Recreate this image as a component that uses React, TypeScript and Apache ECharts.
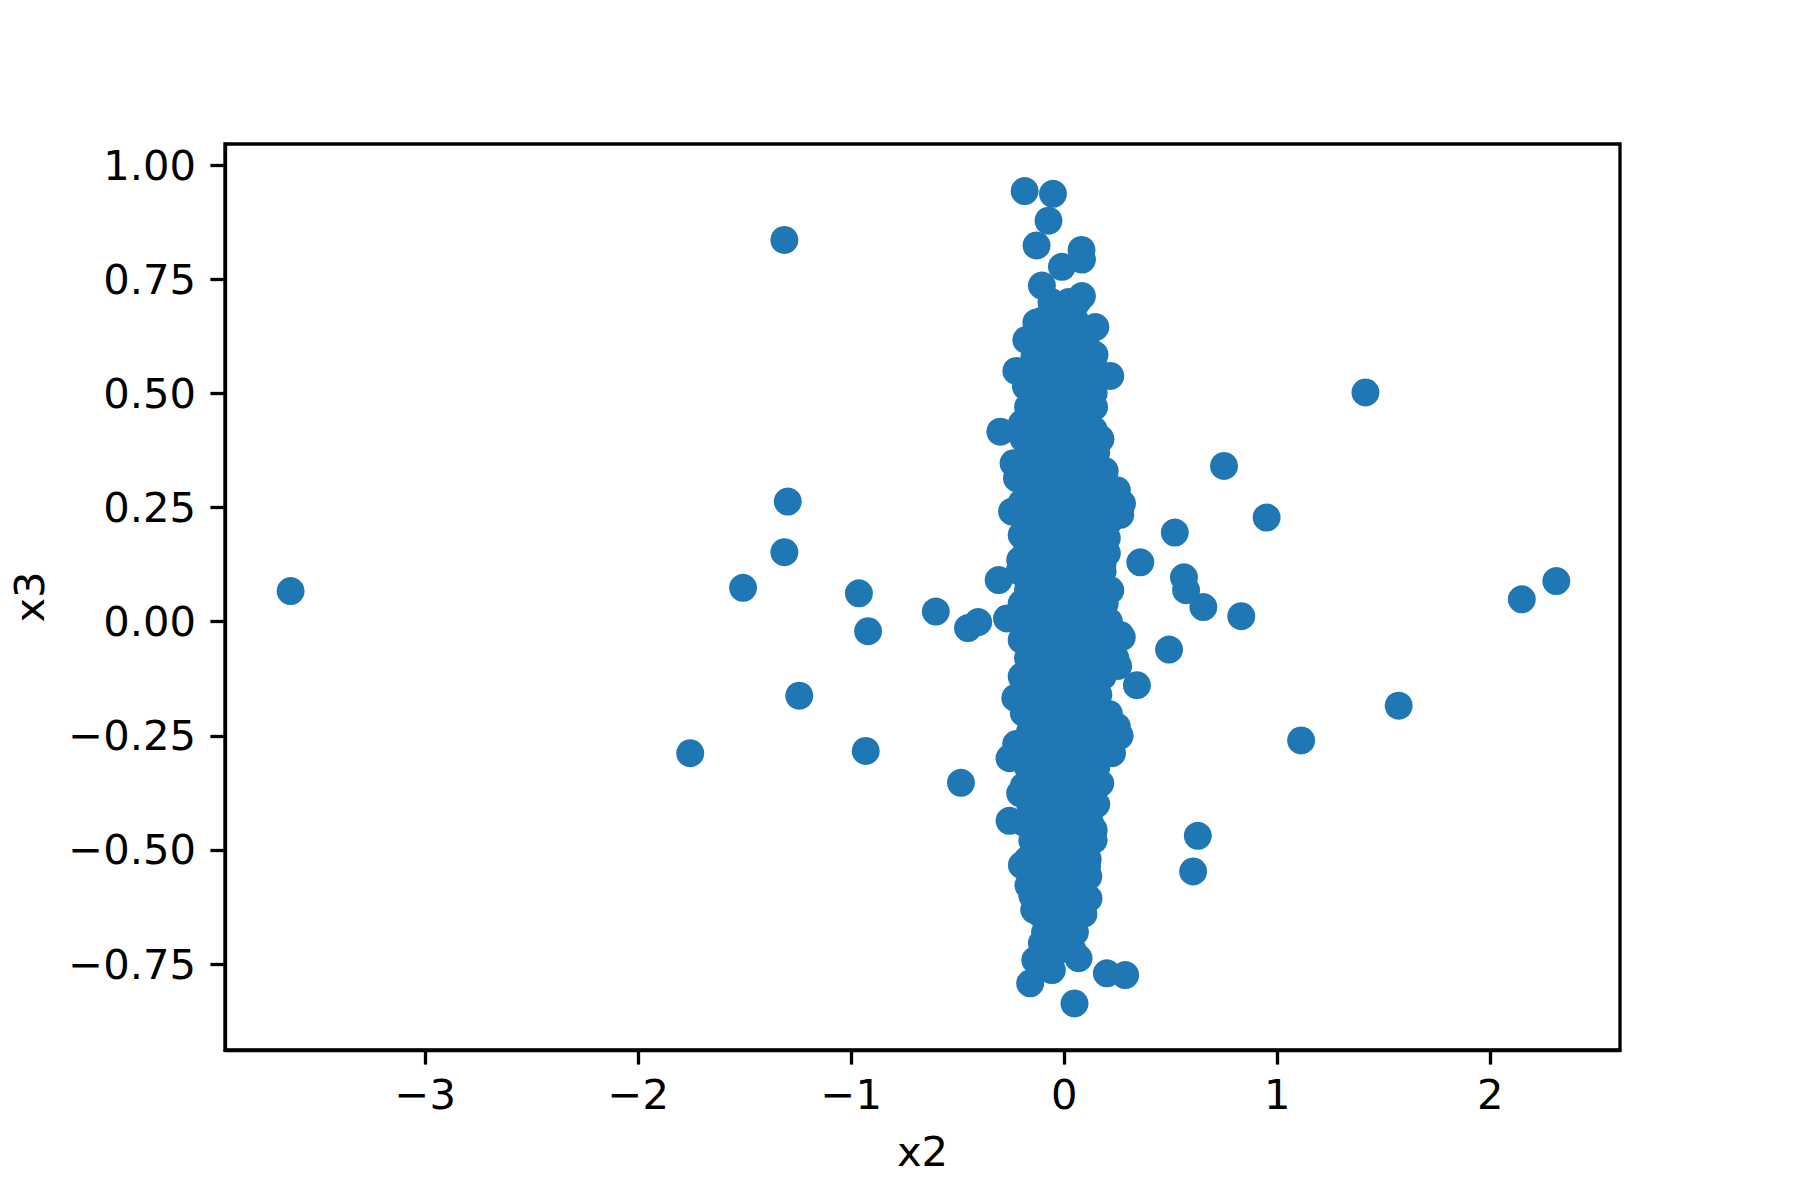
import React, { useEffect, useRef } from "react";
import * as echarts from "echarts";

const X_TICKS = [-3, -2, -1, 0, 1, 2];
const Y_TICKS = [-0.75, -0.5, -0.25, 0, 0.25, 0.5, 0.75, 1.0];
const X_LABEL = "x2";
const Y_LABEL = "x3";

// isolated points away from the main cluster
const OUTLIERS: [number, number][] = [
  [-3.632, 0.067], [-1.314, 0.836], [-1.298, 0.263], [-1.314, 0.152], [-1.508, 0.074],
  [-0.964, 0.062], [-0.921, -0.021], [-1.244, -0.162], [-1.756, -0.288], [-0.932, -0.283],
  [-0.603, 0.022], [-0.452, -0.014], [-0.404, -0.001], [-0.485, -0.353],
  [1.414, 0.502], [0.75, 0.341], [0.95, 0.228], [0.519, 0.195], [0.357, 0.13],
  [0.562, 0.097], [0.572, 0.069], [0.653, 0.032], [0.831, 0.012], [0.492, -0.061],
  [0.341, -0.139], [1.112, -0.26], [1.57, -0.184], [2.148, 0.049], [2.31, 0.089],
  [0.627, -0.469], [0.605, -0.547], [0.2, -0.77], [0.286, -0.774], [0.048, -0.836],
];

// points on the rim of the main cluster
const EDGE: [number, number][] = [
  [-0.186, 0.943], [-0.053, 0.937], [-0.074, 0.878], [-0.13, 0.824], [0.081, 0.814],
  [0.083, 0.793], [-0.011, 0.777], [-0.105, 0.736], [0.083, 0.713], [0.146, 0.645],
  [-0.131, 0.655], [-0.178, 0.617], [0.142, 0.585], [-0.225, 0.549], [0.216, 0.538],
  [-0.18, 0.515], [0.138, 0.5], [0.13, 0.47], [-0.3, 0.416], [-0.199, 0.434], [0.138, 0.42],
  [-0.238, 0.347], [-0.222, 0.314], [-0.245, 0.241], [0.247, 0.288], [0.271, 0.259],
  [0.263, 0.234], [0.2, 0.183], [0.18, 0.128], [0.216, 0.069], [-0.207, 0.135], [-0.19, 0.185],
  [-0.308, 0.091], [-0.269, 0.007], [0.263, -0.029], [0.247, -0.095], [0.24, -0.08],
  [-0.23, -0.167], [0.247, -0.23], [0.26, -0.25], [-0.257, -0.299], [-0.19, -0.288],
  [0.224, -0.288], [0.169, -0.354], [-0.207, -0.376], [-0.257, -0.436], [0.138, -0.456],
  [0.138, -0.478], [-0.199, -0.533], [0.107, -0.536], [0.113, -0.558], [-0.168, -0.577],
  [0.114, -0.606], [-0.141, -0.631], [0.028, -0.638], [-0.105, -0.704], [0.012, -0.697],
  [0.067, -0.737], [-0.136, -0.741], [-0.058, -0.763], [-0.16, -0.792], [-0.226, -0.268],
  [0.21, -0.202], [0.253, -0.097], [0.27, -0.034],
];

// points filling the dense body of the cluster
const CORE: [number, number][] = [
  [-0.06, 0.7], [0.02, 0.7], [0.06, 0.7],
  [-0.1, 0.66], [-0.02, 0.66], [0.05, 0.66],
  [-0.12, 0.62], [-0.04, 0.62], [0.04, 0.62], [0.1, 0.62],
  [-0.14, 0.58], [-0.06, 0.58], [0.02, 0.58], [0.09, 0.58],
  [-0.16, 0.55], [-0.08, 0.55], [0.0, 0.55], [0.08, 0.55], [0.15, 0.55],
  [-0.13, 0.51], [-0.05, 0.51], [0.03, 0.51], [0.11, 0.51],
  [-0.17, 0.47], [-0.09, 0.47], [-0.01, 0.47], [0.07, 0.47], [0.14, 0.47],
  [-0.12, 0.44], [-0.04, 0.44], [0.04, 0.44], [0.11, 0.44],
  [-0.19, 0.4], [-0.11, 0.4], [-0.03, 0.4], [0.05, 0.4], [0.13, 0.4], [0.17, 0.4],
  [-0.16, 0.37], [-0.08, 0.37], [0.0, 0.37], [0.08, 0.37], [0.15, 0.37],
  [-0.19, 0.33], [-0.12, 0.33], [-0.04, 0.33], [0.04, 0.33], [0.12, 0.33], [0.19, 0.33],
  [-0.17, 0.3], [-0.09, 0.3], [-0.01, 0.3], [0.07, 0.3], [0.15, 0.3],
  [-0.2, 0.26], [-0.13, 0.26], [-0.05, 0.26], [0.03, 0.26], [0.11, 0.26], [0.18, 0.26],
  [-0.16, 0.22], [-0.08, 0.22], [0.0, 0.22], [0.08, 0.22], [0.16, 0.22], [0.21, 0.22],
  [-0.2, 0.19], [-0.12, 0.19], [-0.04, 0.19], [0.04, 0.19], [0.12, 0.19],
  [-0.18, 0.15], [-0.1, 0.15], [-0.02, 0.15], [0.06, 0.15], [0.14, 0.15], [0.2, 0.15],
  [-0.21, 0.11], [-0.13, 0.11], [-0.05, 0.11], [0.03, 0.11], [0.11, 0.11], [0.18, 0.11],
  [-0.17, 0.07], [-0.09, 0.07], [-0.01, 0.07], [0.07, 0.07], [0.15, 0.07],
  [-0.2, 0.04], [-0.12, 0.04], [-0.04, 0.04], [0.04, 0.04], [0.12, 0.04], [0.19, 0.04],
  [-0.16, 0.0], [-0.08, 0.0], [0.0, 0.0], [0.08, 0.0], [0.16, 0.0], [0.21, 0.0],
  [-0.2, -0.04], [-0.12, -0.04], [-0.04, -0.04], [0.04, -0.04], [0.12, -0.04], [0.19, -0.04],
  [-0.17, -0.08], [-0.09, -0.08], [-0.01, -0.08], [0.07, -0.08], [0.15, -0.08], [0.22, -0.08],
  [-0.2, -0.12], [-0.13, -0.12], [-0.05, -0.12], [0.03, -0.12], [0.11, -0.12], [0.18, -0.12],
  [-0.16, -0.16], [-0.08, -0.16], [0.0, -0.16], [0.08, -0.16], [0.16, -0.16],
  [-0.19, -0.2], [-0.11, -0.2], [-0.03, -0.2], [0.05, -0.2], [0.13, -0.2], [0.19, -0.2],
  [-0.16, -0.24], [-0.08, -0.24], [0.0, -0.24], [0.08, -0.24], [0.16, -0.24], [0.22, -0.24],
  [-0.19, -0.28], [-0.11, -0.28], [-0.03, -0.28], [0.05, -0.28], [0.13, -0.28],
  [-0.17, -0.32], [-0.09, -0.32], [-0.01, -0.32], [0.07, -0.32], [0.15, -0.32],
  [-0.19, -0.36], [-0.11, -0.36], [-0.03, -0.36], [0.05, -0.36], [0.13, -0.36],
  [-0.16, -0.4], [-0.08, -0.4], [0.0, -0.4], [0.08, -0.4], [0.15, -0.4],
  [-0.19, -0.44], [-0.11, -0.44], [-0.03, -0.44], [0.05, -0.44], [0.12, -0.44],
  [-0.15, -0.48], [-0.07, -0.48], [0.01, -0.48], [0.08, -0.48],
  [-0.17, -0.52], [-0.09, -0.52], [-0.01, -0.52], [0.06, -0.52], [0.11, -0.52],
  [-0.13, -0.56], [-0.05, -0.56], [0.03, -0.56], [0.09, -0.56],
  [-0.15, -0.6], [-0.07, -0.6], [0.01, -0.6], [0.08, -0.6],
  [-0.11, -0.64], [-0.03, -0.64], [0.05, -0.64], [0.09, -0.64],
  [-0.09, -0.68], [-0.02, -0.68], [0.05, -0.68],
  [-0.1, -0.72], [-0.03, -0.72], [0.04, -0.72],
];

const X_MIN = -3.94;
const X_MAX = 2.609;
const Y_MIN = -0.938;
const Y_MAX = 1.046;

const fmt = (v: number, d: number) => {
  const s = Math.abs(v).toFixed(d);
  return v < 0 ? "\u2212" + s : s;
};

const FONT = "DejaVu Sans";
const FS = 41.7;

export default function App() {
  const ref = useRef<HTMLDivElement>(null);
  useEffect(() => {
    if (!ref.current) return;
    const chart = echarts.init(ref.current, null, { renderer: "svg" });
    chart.setOption({
      animation: false,
      backgroundColor: "#ffffff",
      grid: {
        left: 225,
        right: 180,
        top: 144,
        bottom: 150,
        show: true,
        borderColor: "#000000",
        borderWidth: 3.3,
        backgroundColor: "transparent",
      },
      xAxis: {
        type: "value",
        min: X_MIN,
        max: X_MAX,
        name: X_LABEL,
        nameLocation: "middle",
        nameGap: 80,
        nameTextStyle: { fontFamily: FONT, fontSize: FS, color: "#000" },
        axisLine: { show: true, onZero: false, lineStyle: { color: "#000", width: 3.3 } },
        axisTick: { show: true, length: 14.6, customValues: X_TICKS, lineStyle: { color: "#000", width: 3.3 } },
        axisLabel: {
          customValues: X_TICKS,
          formatter: (v: number) => fmt(v, 0),
          fontFamily: FONT,
          fontSize: FS,
          color: "#000",
          margin: 23,
        },
        splitLine: { show: false },
      },
      yAxis: {
        type: "value",
        min: Y_MIN,
        max: Y_MAX,
        name: Y_LABEL,
        nameLocation: "middle",
        nameGap: 175,
        nameRotate: 90,
        nameTextStyle: { fontFamily: FONT, fontSize: FS, color: "#000" },
        axisLine: { show: true, onZero: false, lineStyle: { color: "#000", width: 3.3 } },
        axisTick: { show: true, length: 14.6, customValues: Y_TICKS, lineStyle: { color: "#000", width: 3.3 } },
        axisLabel: {
          customValues: Y_TICKS,
          formatter: (v: number) => fmt(v, 2),
          fontFamily: FONT,
          fontSize: FS,
          color: "#000",
          margin: 29,
        },
        splitLine: { show: false },
      },
      series: [
        {
          type: "scatter",
          data: [...CORE, ...EDGE, ...OUTLIERS],
          symbol: "circle",
          symbolSize: 28,
          itemStyle: { color: "#1f77b4", opacity: 1 },
          emphasis: { disabled: true },
        },
      ],
    });
    return () => chart.dispose();
  }, []);
  return (
    <div
      ref={ref}
      style={{ position: "fixed", left: 0, top: 0, width: 1800, height: 1200, background: "#fff" }}
    />
  );
}
